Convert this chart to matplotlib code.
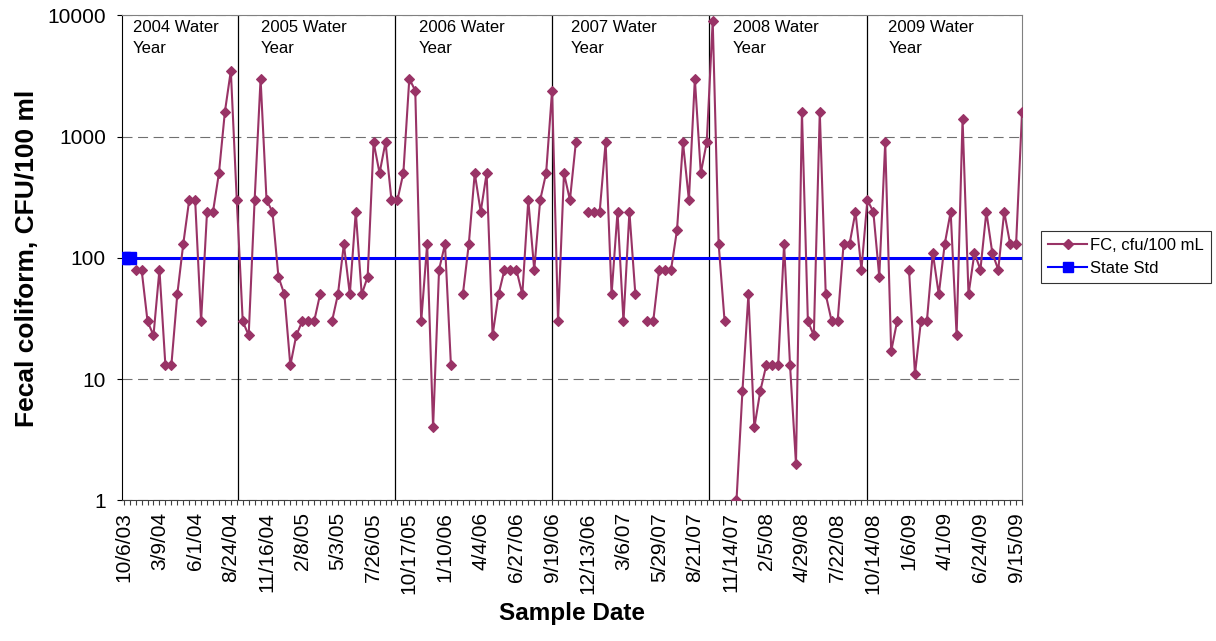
import numpy as np
import matplotlib
matplotlib.use("Agg")
from matplotlib import pyplot as plt
from matplotlib.lines import Line2D
from matplotlib.transforms import blended_transform_factory

plt.rcParams['font.family'] = ['Liberation Sans', 'DejaVu Sans']

nan = np.nan
# fecal coliform per sample (category axis, one entry per sample slot)
fc_values = [
    nan, nan, 80, 80, 30, 23, 80, 13, 13, 50,
    130, 300, 300, 30, 240, 240, 500, 1600, 3500, 300,
    30, 23, 300, 3000, 300, 240, 70, 50, 13, 23,
    30, 30, 30, 50, nan, 30, 50, 130, 50, 240,
    50, 70, 900, 500, 900, 300, 300, 500, 3000, 2400,
    30, 130, 4, 80, 130, 13, nan, 50, 130, 500,
    240, 500, 23, 50, 80, 80, 80, 50, 300, 80,
    300, 500, 2400, 30, 500, 300, 900, nan, 240, 240,
    240, 900, 50, 240, 30, 240, 50, nan, 30, 30,
    80, 80, 80, 170, 900, 300, 3000, 500, 900, 9000,
    130, 30, nan, 1, 8, 50, 4, 8, 13, 13,
    13, 130, 13, 2, 1600, 30, 23, 1600, 50, 30,
    30, 130, 130, 240, 80, 300, 240, 70, 900, 17,
    30, nan, 80, 11, 30, 30, 110, 50, 130, 240,
    23, 1400, 50, 110, 80, 240, 110, 80, 240, 130,
    130, 1600,
]
state_std = 100

date_labels = [
    '10/6/03', '3/9/04', '6/1/04', '8/24/04', '11/16/04', '2/8/05',
    '5/3/05', '7/26/05', '10/17/05', '1/10/06', '4/4/06', '6/27/06',
    '9/19/06', '12/13/06', '3/6/07', '5/29/07', '8/21/07', '11/14/07',
    '2/5/08', '4/29/08', '7/22/08', '10/14/08', '1/6/09', '4/1/09',
    '6/24/09', '9/15/09',
]
label_every = 6

# water year boundaries (in sample slots) and their captions
year_bounds = [19.2, 45.55, 72.0, 98.3, 124.9]
year_names = ['2004 Water\nYear', '2005 Water\nYear', '2006 Water\nYear',
              '2007 Water\nYear', '2008 Water\nYear', '2009 Water\nYear']
year_text_x = [1.5, 23.0, 49.6, 75.1, 102.4, 128.5]

purple = '#993366'
blue = '#0000FF'

n = len(fc_values)
x = np.arange(n)
fc = np.array(fc_values, dtype=float)

fig = plt.figure(figsize=(12.16, 6.41), dpi=100)
ax = fig.add_axes([0.1003, 0.2192, 0.7402, 0.7568])

ax.set_yscale('log')
ax.set_ylim(1, 10000)
ax.set_xlim(-0.3, n - 1)

ax.grid(axis='y', which='major', color='#707070', linestyle=(0, (9, 5)), linewidth=0.8)
ax.vlines(year_bounds, 1, 10000, color='black', linewidth=0.9, zorder=2)

ax.plot(x, np.full(n, state_std, dtype=float), color=blue, linewidth=2.2,
        marker='s', markersize=8, markevery=[0, 1], zorder=3)
ax.plot(x, fc, color=purple, linewidth=1.5, marker='D', markersize=5.5,
        markeredgewidth=0.8, zorder=4)

tr = blended_transform_factory(ax.transData, ax.transAxes)
for xt, name in zip(year_text_x, year_names):
    ax.text(xt, 0.99, name, transform=tr, ha='left', va='top', fontsize=12,
            linespacing=1.45)

ax.set_yticks([1, 10, 100, 1000, 10000])
ax.set_yticklabels(['1', '10', '100', '1000', '10000'])
ax.yaxis.set_minor_locator(matplotlib.ticker.NullLocator())
ax.set_xticks(np.arange(0, label_every * len(date_labels), label_every))
ax.set_xticklabels(date_labels, rotation=90)
ax.set_xticks(x, minor=True)
ax.tick_params(axis='both', which='both', direction='out', length=3.5, width=0.8,
               labelsize=15, pad=5)
ax.tick_params(axis='y', pad=8)
ax.tick_params(axis='x', which='both', colors='#404040', labelcolor='black')

for side in ['top', 'right']:
    ax.spines[side].set_color('#808080')
ax.spines['bottom'].set_color('#404040')

ax.set_ylabel('Fecal coliform, CFU/100 ml', fontsize=19, fontweight='bold', labelpad=6)
ax.set_xlabel('Sample Date', fontsize=17.5, fontweight='bold', labelpad=6)

# legend sits outside the plot, right of the axes
handles = [
    Line2D([], [], color=purple, linewidth=1.5, marker='D', markersize=5.5),
    Line2D([], [], color=blue, linewidth=1.5, marker='s', markersize=7),
]
leg = fig.legend(handles, ['FC, cfu/100 mL', 'State Std'], loc='upper left',
                 bbox_to_anchor=(0.856, 0.640), bbox_transform=fig.transFigure,
                 fontsize=12, frameon=True, fancybox=False, borderaxespad=0,
                 handlelength=2.3, borderpad=0.45, labelspacing=0.45,
                 handletextpad=0.2)
leg.get_frame().set_edgecolor('black')
leg.get_frame().set_linewidth(0.8)

fig.savefig('out.png', dpi=100)
